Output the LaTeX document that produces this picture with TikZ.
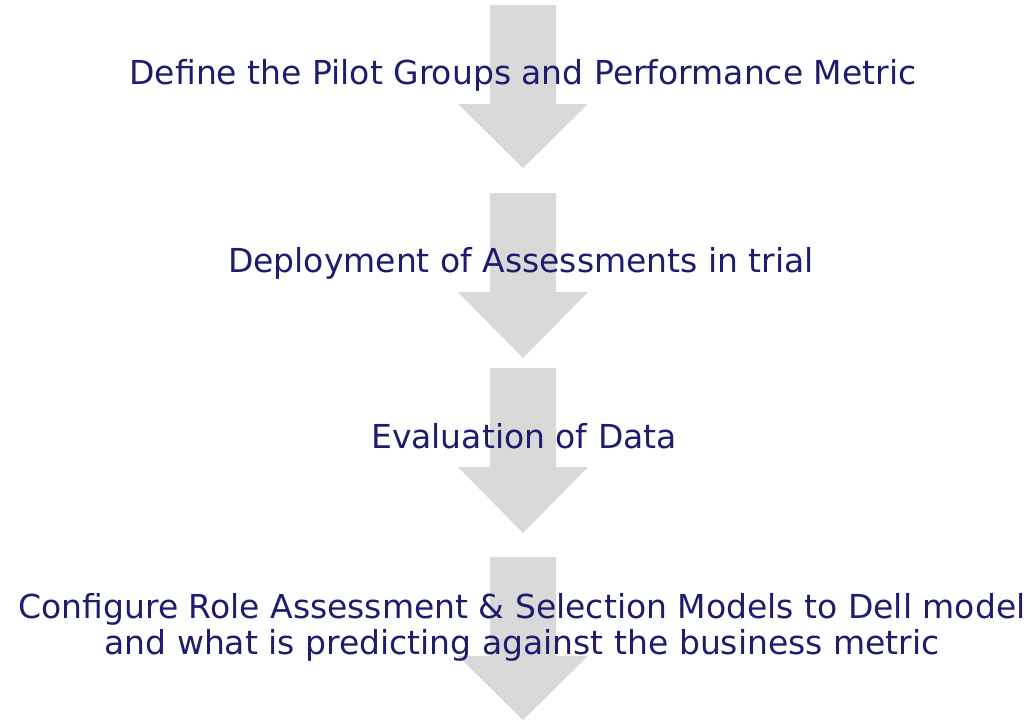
\documentclass[tikz,border=0pt]{standalone}
\usepackage{fontspec}
\setmainfont{DejaVu Sans}
\definecolor{flowgray}{HTML}{D9D9D9}
\definecolor{flownavy}{HTML}{1E1C6E}

\begin{document}
\begin{tikzpicture}[%
  x=1pt,y=-1pt,
  flow/.style={fill=flowgray,draw=none},
  stage/.style={anchor=base,text=flownavy,align=center,inner sep=0pt,
    font=\fontsize{33}{36}\selectfont}]
    % Page
    \fill[white] (0,0) rectangle (1029,721);
    \useasboundingbox (0,0) rectangle (1029,721);
    % Down arrows: top edge / tip
    \foreach \top/\tip in {5/168,193/358,368/533,557/720}
      \fill[flow] (490,\top) -- (556,\top) -- (556,\top+99) -- (588,\top+99)
        -- (523,\tip) -- (458,\top+99) -- (490,\top+99) -- cycle;
    % Stage labels
    \node[stage] (define) at (523,84) {Define the Pilot Groups and Performance Metric};
    \node[stage] (deploy) at (521,272) {Deployment of Assessments in trial};
    \node[stage] (evaluate) at (524,448) {Evaluation of Data};
    \node[stage] (configure) at (522,654) {Configure Role Assessment \& Selection Models to Dell model\\
      and what is predicting against the business metric};
\end{tikzpicture}
\end{document}
